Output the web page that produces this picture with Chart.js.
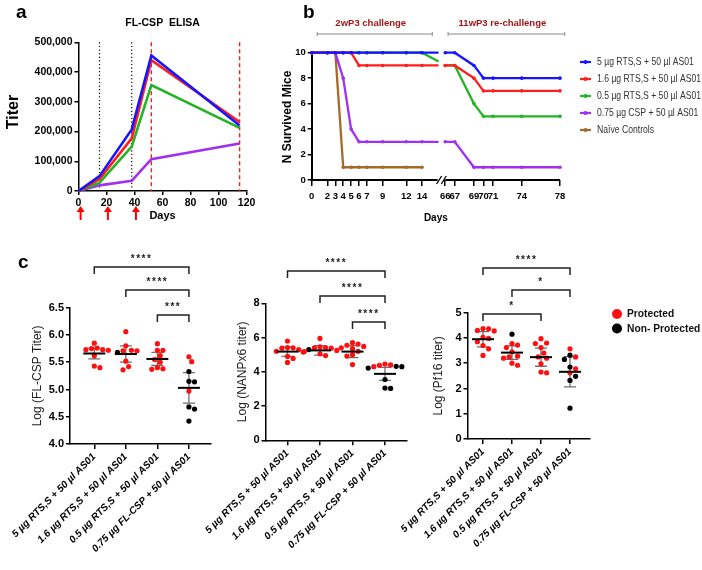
<!DOCTYPE html>
<html>
<head>
<meta charset="utf-8">
<title>RTS,S / FL-CSP immunogenicity and protection</title>
<script src="https://cdn.jsdelivr.net/npm/chart.js@4.4.1/dist/chart.umd.min.js"></script>
<style>
  html, body { margin: 0; padding: 0; background: #fff; }
  #wrap { position: relative; width: 702px; height: 570px; overflow: hidden; font-family: "Liberation Sans", Arial, sans-serif; }
  #wrap canvas { position: absolute; left: 0; top: 0; }
  .panel { position: absolute; font-weight: bold; font-size: 19px; line-height: 19px; color: #000; }
</style>
</head>
<body>
<div id="wrap">
  <canvas id="elisa" width="702" height="570"></canvas>
  <canvas id="survival" width="702" height="570"></canvas>
  <canvas id="fullCsp" width="702" height="570"></canvas>
  <canvas id="nanp" width="702" height="570"></canvas>
  <canvas id="pf16" width="702" height="570"></canvas>
  <div class="panel" style="left:16px;top:2px">a</div>
  <div class="panel" style="left:303px;top:2px">b</div>
  <div class="panel" style="left:18px;top:252px">c</div>
</div>
<script>
"use strict";

// ---------- panel a : FL-CSP ELISA ----------
const elisaDays = [0, 15, 38, 52, 115];
const elisaRts5 = [0, 50000, 207000, 456000, 220000];
const elisaRts16 = [0, 40000, 177000, 440000, 232000];
const elisaRts05 = [0, 28000, 149000, 356000, 212000];
const elisaCsp = [0, 19000, 34000, 107000, 160000];
const boostDays = [15, 38];          // dotted black lines
const challengeDays = [52, 115];     // dashed red lines
const doseArrowDays = [1.5, 21, 41]; // red arrows under the axis

// ---------- panel b : survival ----------
const survTicks = [0, 2, 3, 4, 5, 6, 7, 9, 12, 14, 66, 67, 69, 70, 71, 74, 78];
const earlyDays = [0, 2, 3, 4, 5, 6, 7, 9, 12, 14, 16.1];
const lateDays = [66, 67, 69, 70, 71, 74, 78];
const survRts5Early = [10, 10, 10, 10, 10, 10, 10, 10, 10, 10, 10];
const survRts5Late = [10, 10, 9, 8, 8, 8, 8];
const survRts16Early = [10, 10, 10, 10, 10, 9, 9, 9, 9, 9, 9];
const survRts16Late = [9, 9, 8, 7, 7, 7, 7];
const survRts05Early = [10, 10, 10, 10, 10, 10, 10, 10, 10, 10, 9.3];
const survRts05Late = [9, 9, 6, 5, 5, 5, 5];
const survCspEarly = [10, 10, 10, 8, 4, 3, 3, 3, 3, 3, 3];
const survCspLate = [3, 3, 1, 1, 1, 1, 1];
const survNaiveEarly = [10, 10, 10, 1, 1, 1, 1, 1, 1, 1, null];
const survNaiveLate = [];
const survLabels = ["5 µg RTS,S + 50 µl AS01", "1.6 µg RTS,S + 50 µl AS01", "0.5 µg RTS,S + 50 µl AS01", "0.75 µg CSP + 50 µl AS01", "Naïve Controls"];
const phaseSpans = [[0.7, 15.3, "2wP3 challenge"], [66.3, 78.5, "11wP3 re-challenge"]];

// ---------- panel c : antibody titers by protection ----------
const groupNames = ["5 µg RTS,S + 50 µl AS01", "1.6 µg RTS,S + 50 µl AS01", "0.5 µg RTS,S + 50 µl AS01", "0.75 µg FL-CSP + 50 µl AS01"];

const cspProt = [
    [5.85, 5.76, 5.75, 5.73, 5.73, 5.72, 5.62, 5.43, 5.40],
    [6.06, 5.80, 5.71, 5.71, 5.72, 5.52, 5.42, 5.36],
    [5.84, 5.72, 5.72, 5.62, 5.55, 5.50, 5.40, 5.38, 5.37],
    [5.60, 5.51, 4.97]
];
const cspNonProt = [[], [5.68], [], [5.33, 5.15, 5.14, 4.68, 4.64, 4.42]];
const cspMean = [5.66, 5.65, 5.56, 5.03];
const cspSd = [0.10, 0.15, 0.12, 0.28];
const cspStars = [[0, 3, "****"], [1, 3, "****"], [2, 3, "***"]];

const nanpProt = [
    [5.80, 5.42, 5.40, 5.38, 5.30, 5.20, 5.18, 4.90, 4.78, 4.55],
    [5.95, 5.45, 5.42, 5.40, 5.38, 5.25, 5.15, 5.05, 4.95],
    [5.70, 5.62, 5.55, 5.48, 5.40, 5.35, 5.20, 5.00, 4.92, 4.42],
    [4.45, 4.40, 4.38, 4.30]
];
const nanpNonProt = [[], [5.30], [], [4.32, 4.30, 4.22, 3.55, 3.05, 3.03]];
const nanpMean = [5.18, 5.25, 5.18, 3.88];
const nanpSd = [0.28, 0.28, 0.35, 0.38];
const nanpStars = [[0, 3, "****"], [1, 3, "****"], [2, 3, "****"]];

const pf16Prot = [
    [4.37, 4.36, 4.30, 4.28, 4.02, 3.98, 3.85, 3.70, 3.57, 3.31],
    [3.78, 3.72, 3.62, 3.45, 3.28, 3.25, 3.20, 3.00, 2.92],
    [3.97, 3.80, 3.78, 3.62, 3.40, 3.25, 3.20, 2.98, 2.65, 2.62],
    [3.57, 3.25, 2.78, 2.62]
];
const pf16NonProt = [[], [4.15], [], [3.32, 3.15, 2.85, 2.48, 2.32, 1.22]];
const pf16Mean = [3.95, 3.42, 3.24, 2.66];
const pf16Sd = [0.30, 0.27, 0.36, 0.60];
const pf16Stars = [[0, 3, "****"], [1, 3, "*"], [0, 2, "*"]];

// ---------- styling ----------
const W = 702, H = 570;
const FONT = '"Liberation Sans", Arial, sans-serif';
const BLUE = "#1515ff", RED = "#ff1e1e", GREEN = "#24b324", PURPLE = "#a02ff0", BROWN = "#a36a2a";
const DOT_RED = "#ff1010";

Chart.defaults.font.family = FONT;
Chart.defaults.color = "#000";
Chart.defaults.animation = false;
Chart.defaults.events = [];
Chart.defaults.plugins.legend.display = false;
Chart.defaults.plugins.tooltip.enabled = false;

function font(size, weight, style) {
    return `${style || ""} ${weight || "normal"} ${size}px ${FONT}`;
}

// sx < 1 squeezes the text horizontally (the figure uses a narrow face)
function text(ctx, s, x, y, f, color, align, rot, sx) {
    ctx.save();
    ctx.translate(x, y);
    if (rot) ctx.rotate(rot);
    if (sx) ctx.scale(sx, 1);
    ctx.font = f;
    ctx.fillStyle = color;
    ctx.textAlign = align || "center";
    ctx.textBaseline = "middle";
    ctx.fillText(s, 0, 0);
    ctx.restore();
}

function xy(xs, ys) {
    return xs.map((x, i) => ({ x: x, y: ys[i] }));
}

function tickGrid(len, lw) {
    return { display: true, drawOnChartArea: false, drawTicks: true, tickLength: len, color: "#000", lineWidth: lw };
}

// ================= panel a =================
new Chart(document.getElementById("elisa"), {
    type: "line",
    data: {
        datasets: [
            { data: xy(elisaDays, elisaRts5), borderColor: BLUE },
            { data: xy(elisaDays, elisaRts16), borderColor: RED },
            { data: xy(elisaDays, elisaRts05), borderColor: GREEN },
            { data: xy(elisaDays, elisaCsp), borderColor: PURPLE }
        ]
    },
    options: {
        responsive: false,
        layout: { padding: { left: 0, top: 42.3, right: W - 246.6, bottom: 0 } },
        elements: { line: { borderWidth: 2.6, tension: 0 }, point: { radius: 0 } },
        datasets: { line: { clip: false } },
        scales: {
            x: {
                type: "linear", min: 0, max: 120,
                ticks: { stepSize: 20, maxRotation: 0, padding: 2, font: { size: 10.5, weight: "bold" } },
                grid: tickGrid(4, 1.5),
                border: { color: "#000", width: 1.5 },
                afterFit: s => { s.height = H - 191; s.paddingLeft = 0; s.paddingRight = 0; }
            },
            y: {
                min: 0, max: 500000,
                ticks: { stepSize: 100000, padding: 2, font: { size: 10.5, weight: "bold" }, callback: v => v.toLocaleString("en-US") },
                grid: tickGrid(4, 1.5),
                border: { color: "#000", width: 1.5 },
                afterFit: s => { s.width = 78.5; }
            }
        }
    },
    plugins: [{
        id: "elisaDecor",
        beforeDatasetsDraw(chart) {
            const { ctx, chartArea: a, scales: { x } } = chart;
            ctx.save();
            ctx.strokeStyle = "#000";
            ctx.lineWidth = 1.2;
            ctx.setLineDash([1.2, 2.4]);
            boostDays.forEach(d => {
                const px = x.getPixelForValue(d);
                ctx.beginPath(); ctx.moveTo(px, a.top); ctx.lineTo(px, a.bottom); ctx.stroke();
            });
            ctx.strokeStyle = "#ff1a1a";
            ctx.lineWidth = 1.4;
            ctx.setLineDash([4, 3]);
            challengeDays.forEach(d => {
                const px = x.getPixelForValue(d);
                ctx.beginPath(); ctx.moveTo(px, a.top); ctx.lineTo(px, a.bottom); ctx.stroke();
            });
            ctx.restore();
        },
        afterDraw(chart) {
            const { ctx, chartArea: a, scales: { x } } = chart;
            const mid = (a.left + a.right) / 2;
            text(ctx, "FL-CSP  ELISA", mid, 23, font(10.5, "bold"), "#000");
            text(ctx, "Titer", 14, 112, font(16, "bold"), "#000", "center", -Math.PI / 2);
            text(ctx, "Days", mid, 216, font(11, "bold"), "#000");
            ctx.save();
            ctx.fillStyle = "#ff0000";
            ctx.strokeStyle = "#ff0000";
            ctx.lineWidth = 2;
            doseArrowDays.forEach(d => {
                const px = x.getPixelForValue(d), tip = a.bottom + 15;
                ctx.beginPath();
                ctx.moveTo(px, tip); ctx.lineTo(px - 4, tip + 6); ctx.lineTo(px + 4, tip + 6);
                ctx.closePath(); ctx.fill();
                ctx.beginPath(); ctx.moveTo(px, tip + 5); ctx.lineTo(px, tip + 14); ctx.stroke();
            });
            ctx.restore();
        }
    }]
});

// ================= panel b =================
const earlyWindow = [0, 16.1];
const lateWindow = [65.8, 78];
const windowSplit = [0.511, 0.530];

class BrokenDayScale extends Chart.LinearScale {
    getPixelForValue(value) {
        if (value === null || value === undefined || Number.isNaN(value)) return NaN;
        const [e0, e1] = earlyWindow, [l0, l1] = lateWindow, [fa, fb] = windowSplit;
        let dec;
        if (value <= e1) dec = (value - e0) / (e1 - e0) * fa;
        else if (value >= l0) dec = fb + (value - l0) / (l1 - l0) * (1 - fb);
        else dec = fa + (value - e1) / (l0 - e1) * (fb - fa);
        return this.getPixelForDecimal(dec);
    }
    getValueForPixel(pixel) {
        const dec = this.getDecimalForPixel(pixel);
        const [e0, e1] = earlyWindow, [l0, l1] = lateWindow, [fa, fb] = windowSplit;
        if (dec <= fa) return e0 + dec / fa * (e1 - e0);
        if (dec >= fb) return l0 + (dec - fb) / (1 - fb) * (l1 - l0);
        return e1 + (dec - fa) / (fb - fa) * (l0 - e1);
    }
    buildTicks() {
        this.start = this.min;
        this.end = this.max;
        return survTicks.map(v => ({ value: v }));
    }
}
BrokenDayScale.id = "brokenDay";
Chart.register(BrokenDayScale);

function survSeries(early, late) {
    return xy(earlyDays, early).concat([{ x: 40, y: null }], xy(lateDays, late));
}

const survColors = [BLUE, RED, GREEN, PURPLE, BROWN];
const survSets = [
    survSeries(survRts5Early, survRts5Late),
    survSeries(survRts16Early, survRts16Late),
    survSeries(survRts05Early, survRts05Late),
    survSeries(survCspEarly, survCspLate),
    survSeries(survNaiveEarly, survNaiveLate)
];

new Chart(document.getElementById("survival"), {
    type: "line",
    data: {
        datasets: survSets.map((d, i) => ({
            label: survLabels[i],
            data: d,
            borderColor: survColors[i],
            pointBackgroundColor: survColors[i],
            pointBorderWidth: 0,
            pointRadius: c => (c.raw && survTicks.includes(c.raw.x) && c.raw.y !== null) ? 1.8 : 0
        }))
    },
    options: {
        responsive: false,
        layout: { padding: { left: 0, top: 52.7, right: W - 560, bottom: 0 } },
        elements: { line: { borderWidth: 2.3, tension: 0 } },
        datasets: { line: { clip: false, spanGaps: false } },
        scales: {
            x: {
                type: "brokenDay", min: 0, max: 78,
                ticks: { autoSkip: false, maxRotation: 0, minRotation: 0, padding: 5, font: { size: 9.5, weight: "bold" }, callback: v => String(v) },
                grid: tickGrid(6, 1.5),
                border: { display: false },
                afterFit: s => { s.height = H - 180; s.paddingLeft = 0; s.paddingRight = 0; }
            },
            y: {
                min: 0, max: 10,
                ticks: { stepSize: 2, padding: 2, font: { size: 9.5, weight: "bold" } },
                grid: tickGrid(4, 1.5),
                border: { color: "#000", width: 2 },
                afterFit: s => { s.width = 311.7; }
            }
        }
    },
    plugins: [{
        id: "survDecor",
        afterDraw(chart) {
            const { ctx, chartArea: a, scales: { x } } = chart;
            const cut1 = x.getPixelForValue(earlyWindow[1]);
            const cut2 = x.getPixelForValue(lateWindow[0]);
            ctx.save();
            // broken x axis
            ctx.strokeStyle = "#000";
            ctx.lineWidth = 2;
            ctx.beginPath();
            ctx.moveTo(a.left - 1, a.bottom); ctx.lineTo(cut1 - 1, a.bottom);
            ctx.moveTo(cut2 + 2, a.bottom); ctx.lineTo(a.right, a.bottom);
            ctx.stroke();
            ctx.lineWidth = 1.3;
            [cut1 + 0.5, cut2 + 0.5].forEach(c => {
                ctx.beginPath(); ctx.moveTo(c - 2.5, a.bottom + 4); ctx.lineTo(c + 2.5, a.bottom - 4); ctx.stroke();
            });
            // challenge brackets
            ctx.strokeStyle = "#8a8a8a";
            ctx.lineWidth = 1;
            phaseSpans.forEach(([d0, d1, name]) => {
                const x0 = x.getPixelForValue(d0), x1 = x.getPixelForValue(d1), yy = 34;
                ctx.beginPath();
                ctx.moveTo(x0, yy); ctx.lineTo(x1, yy);
                ctx.moveTo(x0, yy - 2); ctx.lineTo(x0, yy + 2);
                ctx.moveTo(x1, yy - 2); ctx.lineTo(x1, yy + 2);
                ctx.stroke();
                text(ctx, name, (x0 + x1) / 2 - 4, 23, font(9.5, "bold"), "#a01818");
            });
            // legend
            chart.data.datasets.forEach((ds, i) => {
                const yy = 62 + i * 17;
                ctx.strokeStyle = ds.borderColor;
                ctx.fillStyle = ds.borderColor;
                ctx.lineWidth = 2.2;
                ctx.beginPath(); ctx.moveTo(580, yy); ctx.lineTo(591, yy); ctx.stroke();
                ctx.beginPath(); ctx.arc(585.5, yy, 2, 0, Math.PI * 2); ctx.fill();
                text(ctx, ds.label, 597, yy, font(11.5), "#333", "left", 0, 0.75);
            });
            ctx.restore();
            text(ctx, "N Survived Mice", 288, 117, font(12, "bold"), "#000", "center", -Math.PI / 2);
            text(ctx, "Days", (a.left + a.right) / 2, 218, font(10, "bold"), "#000");
        }
    }]
});

// ================= panel c =================
function swarm(values, pxPerUnit, gap) {
    const order = values.map((v, i) => i).sort((p, q) => values[q] - values[p]);
    const placed = [], offs = [];
    order.forEach(i => {
        const yy = values[i] * pxPerUnit;
        for (let k = 0; k < 200; k++) {
            const dx = (k % 2 ? 1 : -1) * Math.ceil(k / 2) * gap / 2;
            if (placed.every(p => (p.x - dx) ** 2 + (p.y - yy) ** 2 >= gap * gap)) {
                placed.push({ x: dx, y: yy });
                offs[i] = dx;
                break;
            }
        }
    });
    return offs;
}

function makeDotPlot(id, s) {
    const pxPerGroup = (s.area.right - s.area.left) / (s.xRange[1] - s.xRange[0]);
    const pxPerUnit = (s.area.bottom - s.area.top) / (s.yRange[1] - s.yRange[0]);
    const red = [], black = [];
    s.prot.forEach((vals, g) => {
        const all = vals.concat(s.nonProt[g]);
        const offs = swarm(all, pxPerUnit, 5.6);
        all.forEach((v, i) => (i < vals.length ? red : black).push({ x: g + offs[i] / pxPerGroup, y: v }));
    });

    return new Chart(document.getElementById(id), {
        type: "scatter",
        data: {
            datasets: [
                { label: "Protected", data: red, backgroundColor: DOT_RED },
                { label: "Non- Protected", data: black, backgroundColor: "#000" }
            ]
        },
        options: {
            responsive: false,
            layout: { padding: { left: 0, top: s.area.top, right: W - s.area.right, bottom: 0 } },
            elements: { point: { radius: 2.6, borderWidth: 0 } },
            datasets: { scatter: { clip: false } },
            scales: {
                x: {
                    type: "linear", min: s.xRange[0], max: s.xRange[1],
                    afterBuildTicks: sc => { sc.ticks = groupNames.map((n, i) => ({ value: i })); },
                    ticks: {
                        autoSkip: false, minRotation: 45, maxRotation: 45, padding: 2,
                        font: { size: 10, weight: "bold", style: "italic" },
                        callback: v => groupNames[v]
                    },
                    grid: tickGrid(5, 1.5),
                    border: { color: "#000", width: 1.5 },
                    afterFit: sc => { sc.height = H - s.area.bottom; sc.paddingLeft = 0; sc.paddingRight = 0; }
                },
                y: {
                    min: s.yRange[0], max: s.yRange[1],
                    ticks: { stepSize: s.yStep, padding: 2, font: { size: 11, weight: "bold" }, callback: v => v.toFixed(s.digits) },
                    grid: tickGrid(4, 1.5),
                    border: { color: "#000", width: 1.5 },
                    afterFit: sc => { sc.width = s.area.left; }
                }
            }
        },
        plugins: [{
            id: "dotDecor",
            beforeDatasetsDraw(chart) {
                const { ctx, scales: { x, y } } = chart;
                ctx.save();
                ctx.strokeStyle = "#6e6e6e";
                ctx.lineWidth = 1.3;
                s.mean.forEach((m, g) => {
                    const px = x.getPixelForValue(g);
                    const hi = y.getPixelForValue(m + s.sd[g]), lo = y.getPixelForValue(m - s.sd[g]);
                    ctx.beginPath();
                    ctx.moveTo(px, hi); ctx.lineTo(px, lo);
                    ctx.moveTo(px - 6, hi); ctx.lineTo(px + 6, hi);
                    ctx.moveTo(px - 6, lo); ctx.lineTo(px + 6, lo);
                    ctx.stroke();
                });
                ctx.restore();
            },
            afterDatasetsDraw(chart) {
                const { ctx, scales: { x, y } } = chart;
                ctx.save();
                ctx.strokeStyle = "#000";
                ctx.lineWidth = 2;
                s.mean.forEach((m, g) => {
                    const px = x.getPixelForValue(g), py = y.getPixelForValue(m);
                    ctx.beginPath(); ctx.moveTo(px - 11, py); ctx.lineTo(px + 11, py); ctx.stroke();
                });
                ctx.restore();
            },
            afterDraw(chart) {
                const { ctx, chartArea: a, scales: { x } } = chart;
                ctx.save();
                ctx.strokeStyle = "#222";
                ctx.lineWidth = 1.5;
                s.stars.forEach(([g0, g1, label], i) => {
                    const x0 = x.getPixelForValue(g0), x1 = x.getPixelForValue(g1);
                    const yy = a.top + s.starLevels[i];
                    ctx.beginPath();
                    ctx.moveTo(x0, yy + 7); ctx.lineTo(x0, yy); ctx.lineTo(x1, yy); ctx.lineTo(x1, yy + 7);
                    ctx.stroke();
                    ctx.save();
                    ctx.letterSpacing = "1.5px";
                    text(ctx, label, (x0 + x1) / 2, yy - 8, font(10, "bold"), "#222");
                    ctx.restore();
                });
                ctx.restore();
                text(ctx, s.title, s.titleX, (a.top + a.bottom) / 2, font(12), "#222", "center", -Math.PI / 2);
                if (s.legend) {
                    chart.data.datasets.forEach((ds, i) => {
                        const yy = 314 + i * 14.5;
                        ctx.save();
                        ctx.fillStyle = ds.backgroundColor;
                        ctx.beginPath(); ctx.arc(617, yy, 5, 0, Math.PI * 2); ctx.fill();
                        ctx.restore();
                        text(ctx, ds.label, 627, yy, font(11, "bold"), "#111", "left", 0, 0.93);
                    });
                }
            }
        }]
    });
}

makeDotPlot("fullCsp", {
    prot: cspProt, nonProt: cspNonProt, mean: cspMean, sd: cspSd,
    stars: cspStars, starLevels: [-40.7, -17.7, 7.3],
    yRange: [4, 6.5], yStep: 0.5, digits: 1,
    xRange: [-0.77, 3.7],
    area: { left: 70, right: 211, top: 307.7, bottom: 444 },
    title: "Log (FL-CSP Titer)", titleX: 38
});

makeDotPlot("nanp", {
    prot: nanpProt, nonProt: nanpNonProt, mean: nanpMean, sd: nanpSd,
    stars: nanpStars, starLevels: [-32.3, -7.3, 18.7],
    yRange: [0, 8], yStep: 2, digits: 0,
    xRange: [-0.677, 3.677],
    area: { left: 265.5, right: 407, top: 303.3, bottom: 440.3 },
    title: "Log (NANPx6 titer)", titleX: 243
});

makeDotPlot("pf16", {
    prot: pf16Prot, nonProt: pf16NonProt, mean: pf16Mean, sd: pf16Sd,
    stars: pf16Stars, starLevels: [-44.7, -22.7, 1.3],
    yRange: [0, 5], yStep: 1, digits: 0,
    xRange: [-0.534, 3.69],
    area: { left: 467.5, right: 590, top: 312.7, bottom: 439 },
    title: "Log (Pf16 titer)", titleX: 439, legend: true
});
</script>
</body>
</html>
